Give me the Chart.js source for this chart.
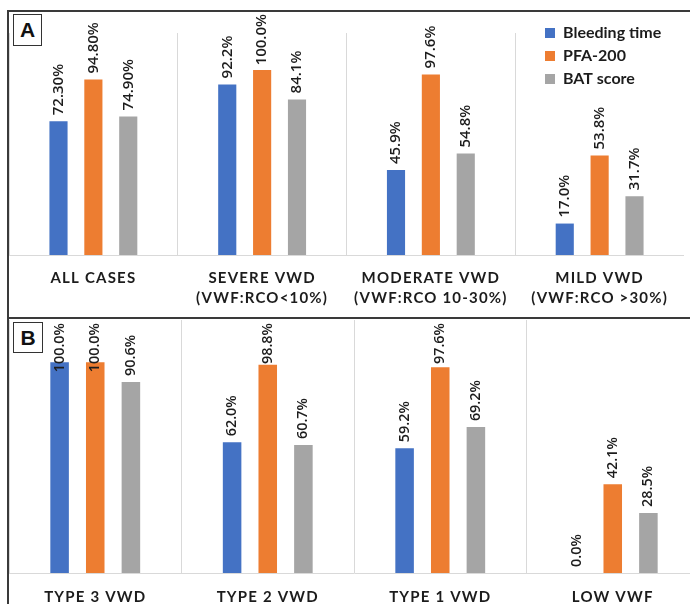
<!DOCTYPE html>
<html>
<head>
<meta charset="utf-8">
<script src="https://cdn.jsdelivr.net/npm/chart.js@4.4.1/dist/chart.umd.min.js"></script>
<style>
  html, body { margin: 0; padding: 0; background: #fff; }
  #page { position: relative; width: 690px; height: 604px; overflow: hidden; background: #fff; }
  .frame { position: absolute; box-sizing: border-box; border-color: #3a3a3a; border-style: solid; border-width: 0; }
  .tag { position: absolute; box-sizing: border-box; border: 1px solid #333; background: #fff;
         font: bold 21px "Liberation Sans", Arial, sans-serif; color: #111;
         display: flex; align-items: center; justify-content: center; z-index: 3; }
  canvas { position: absolute; display: block; }
</style>
</head>
<body>
<div id="page">
  <div class="frame" style="left:7px; top:10px; width:720px; height:309px; border-top-width:2px; border-left-width:2px; border-bottom-width:2px;"></div>
  <div class="frame" style="left:7px; top:319px; width:720px; height:300px; border-left-width:2px;"></div>
  <div class="tag" style="left:13px; top:14px; width:29px; height:32px;">A</div>
  <div class="tag" style="left:13px; top:322px; width:30px; height:31px;">B</div>
  <canvas id="chartA" width="675" height="306" style="left:9px; top:12px;"></canvas>
  <canvas id="chartB" width="690" height="304" style="left:9px; top:319px;"></canvas>
</div>
<script>
// Panel A: sensitivity by VWF:RCo severity
const groupsA = [["ALL CASES"], ["SEVERE VWD", "(VWF:RCO<10%)"], ["MODERATE VWD", "(VWF:RCO 10-30%)"], ["MILD VWD", "(VWF:RCO >30%)"]];
const decimalsA = [2, 1, 1, 1];
const bleedingA = [72.3, 92.2, 45.9, 17.0];
const pfaA = [94.8, 100.0, 97.6, 53.8];
const batA = [74.9, 84.1, 54.8, 31.7];

// Panel B: sensitivity by VWD type
const groupsB = ["TYPE 3 VWD", "TYPE 2 VWD", "TYPE 1 VWD", "LOW VWF"];
const decimalsB = [1, 1, 1, 1];
const bleedingB = [100.0, 62.0, 59.2, 0.0];
const pfaB = [100.0, 98.8, 97.6, 42.1];
const batB = [90.6, 60.7, 69.2, 28.5];

const seriesNames = ["Bleeding time", "PFA-200", "BAT score"];
const seriesColors = ["#4472C4", "#ED7D31", "#A5A5A5"];

const FONT = "Lato, 'Open Sans', sans-serif";
const VALUE_FONT = "'Open Sans', Lato, sans-serif";
const INK = "#1c1c1c";

// Rotated percentage labels above each bar, read from the bar elements
const valueLabels = {
  id: "valueLabels",
  afterDatasetsDraw(chart, args, opts) {
    const ctx = chart.ctx;
    ctx.save();
    ctx.letterSpacing = "0px";
    ctx.font = `600 ${opts.size}px ${VALUE_FONT}`;
    ctx.fillStyle = INK;
    ctx.textAlign = "left";
    ctx.textBaseline = "middle";
    chart.data.datasets.forEach((ds, di) => {
      const meta = chart.getDatasetMeta(di);
      meta.data.forEach((bar, i) => {
        const text = ds.data[i].toFixed(opts.decimals[i]) + "%";
        const w = ctx.measureText(text).width;
        let start = bar.y - opts.offset;
        if (start - w < opts.minTop) start = opts.minTop + w;
        ctx.save();
        ctx.translate(bar.x, start);
        ctx.rotate(-Math.PI / 2);
        ctx.fillText(text, 0, 0);
        ctx.restore();
      });
    });
    ctx.restore();
  }
};

// Spaced capitals for the category axis labels
const spacedTicks = {
  id: "spacedTicks",
  afterUpdate(chart, args, opts) {
    const s = chart.scales.x;
    if (!s || s._spacedWrapped) return;
    const orig = s.drawLabels;
    s.drawLabels = function (area) {
      const c = this.ctx;
      c.save();
      c.letterSpacing = opts.spacing;
      orig.call(this, area);
      c.restore();
    };
    s._spacedWrapped = true;
  }
};

// Place the legend box in the upper right of the plot
const legendSpot = {
  id: "legendSpot",
  afterLayout(chart, args, opts) {
    const lg = chart.legend;
    if (!lg || !lg.options.display) return;
    lg.left = opts.left;
    lg.top = opts.top;
    lg.right = opts.left + 170;
    lg.bottom = opts.top + 90;
    lg.width = 170;
    lg.height = 90;
  }
};

function makeDatasets(a, b, c) {
  return [a, b, c].map((d, k) => ({
    label: seriesNames[k],
    data: d,
    backgroundColor: seriesColors[k],
    borderWidth: 0,
    categoryPercentage: 0.62,
    barPercentage: 0.52
  }));
}

function makeChart(id, labels, data, cfg) {
  return new Chart(document.getElementById(id), {
    type: "bar",
    data: { labels: labels, datasets: data },
    plugins: [valueLabels, spacedTicks, legendSpot],
    options: {
      responsive: false,
      animation: false,
      devicePixelRatio: 1,
      layout: { padding: { top: cfg.padTop, left: 0, right: 0, bottom: 0 } },
      scales: {
        y: { display: false, min: 0, max: 120 },
        x: {
          offset: true,
          grid: { display: true, offset: true, color: "#d9d9d9", lineWidth: 1, drawTicks: false },
          border: { display: true, color: "#d9d9d9", width: 1 },
          ticks: {
            color: INK,
            padding: cfg.tickPad,
            maxRotation: 0,
            autoSkip: false,
            font: { family: FONT, size: 15, weight: "bold", lineHeight: 20 / 15 }
          },
          afterFit(scale) { scale.height = cfg.axisHeight; }
        }
      },
      plugins: {
        tooltip: { enabled: false },
        title: { display: false },
        legend: {
          display: cfg.legend,
          position: "chartArea",
          align: "start",
          labels: {
            boxWidth: 10,
            boxHeight: 10,
            padding: 7,
            color: INK,
            font: { family: FONT, size: 16, weight: "bold" }
          }
        },
        legendSpot: { left: 529, top: 6 },
        spacedTicks: { spacing: "1.2px" },
        valueLabels: { size: cfg.labelSize, offset: 6, minTop: cfg.minTop, decimals: cfg.decimals }
      }
    }
  });
}

makeChart("chartA", groupsA, makeDatasets(bleedingA, pfaA, batA),
  { padTop: 21, axisHeight: 63, tickPad: 13, legend: true, labelSize: 15, minTop: 2, decimals: decimalsA });
makeChart("chartB", groupsB, makeDatasets(bleedingB, pfaB, batB),
  { padTop: 1, axisHeight: 50, tickPad: 14, legend: false, labelSize: 14.4, minTop: 4, decimals: decimalsB });
</script>
</body>
</html>
